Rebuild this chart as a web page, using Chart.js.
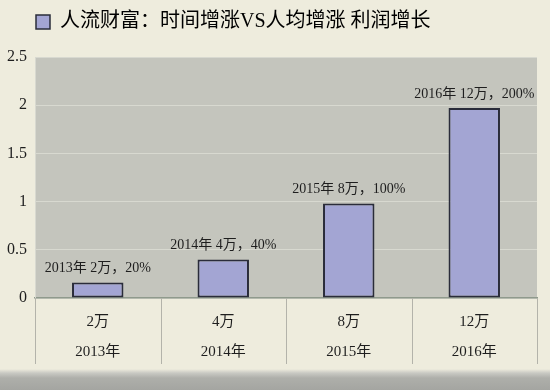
<!DOCTYPE html>
<html>
<head>
<meta charset="utf-8">
<script src="https://cdn.jsdelivr.net/npm/chart.js@4"></script>
<style>
  html, body { margin: 0; padding: 0; }
  body {
    width: 550px; height: 390px; overflow: hidden;
    background: linear-gradient(to bottom, #eeecdd 0px, #eeecdd 369px, #c9c9c3 373px, #aeafaa 378px, #a4a5a1 390px);
  }
  #wrap { position: relative; width: 550px; height: 390px; }
</style>
</head>
<body>
<div id="wrap"><canvas id="c" width="550" height="390"></canvas></div>
<script>
const title = '人流财富：时间增涨VS人均增涨 利润增长';
const categories = ['2013年', '2014年', '2015年', '2016年'];
const people = ['2万', '4万', '8万', '12万'];
const growth = ['20%', '40%', '100%', '200%'];
const values = [0.16, 0.4, 0.98, 1.97];
const yMax = 2.5;
const yStep = 0.5;

const FONT = "'Liberation Serif', 'Noto Sans CJK SC', serif";
const barLabels = categories.map((c, i) => c + ' ' + people[i] + '，' + growth[i]);
const xLabels = categories.map((c, i) => [people[i], c]);

const plotBg = {
  id: 'plotBg',
  beforeDraw(chart) {
    const { ctx, chartArea: a } = chart;
    ctx.save();
    ctx.fillStyle = '#c4c5bd';
    ctx.fillRect(a.left, a.top, a.right - a.left, a.bottom - a.top);
    ctx.restore();
  }
};

const separators = {
  id: 'separators',
  afterDraw(chart) {
    const { ctx, chartArea: a } = chart;
    const xs = chart.scales.x;
    ctx.save();
    ctx.strokeStyle = '#b3b3aa';
    ctx.lineWidth = 1;
    for (let i = 0; i <= categories.length; i++) {
      const x = Math.round(xs.getPixelForValue(i - 0.5)) + 0.5;
      ctx.beginPath();
      ctx.moveTo(x, a.bottom);
      ctx.lineTo(x, a.bottom + 66);
      ctx.stroke();
    }
    ctx.restore();
  }
};

const barText = {
  id: 'barText',
  afterDatasetsDraw(chart) {
    const { ctx } = chart;
    const meta = chart.getDatasetMeta(0);
    ctx.save();
    ctx.font = '14px ' + FONT;
    ctx.fillStyle = '#1e1e1e';
    ctx.textAlign = 'center';
    ctx.textBaseline = 'bottom';
    meta.data.forEach((bar, i) => {
      ctx.fillText(barLabels[i], bar.x, bar.y - 7);
    });
    ctx.restore();
  }
};

const legendTweak = {
  id: 'legendTweak',
  beforeInit(chart) {
    const lg = chart.legend;
    const origFit = lg.fit;
    lg.fit = function () {
      origFit.call(this);
      this.height += 15;
    };
    const origDraw = lg.draw;
    lg.draw = function () {
      this.ctx.save();
      this.ctx.translate(26, 0);
      origDraw.call(this);
      this.ctx.restore();
    };
  }
};

new Chart(document.getElementById('c'), {
  type: 'bar',
  data: {
    labels: xLabels,
    datasets: [{
      label: title,
      data: values,
      backgroundColor: '#a3a5d3',
      borderColor: '#2a2c3a',
      borderWidth: 2,
      borderSkipped: false,
      barPercentage: 0.41,
      categoryPercentage: 1.0
    }]
  },
  options: {
    responsive: false,
    animation: false,
    devicePixelRatio: 1,
    layout: { padding: { left: 0, right: 13, top: 2, bottom: 0 } },
    plugins: {
      legend: {
        display: true,
        position: 'top',
        align: 'start',
        labels: {
          boxWidth: 14,
          boxHeight: 14,
          padding: 10,
          color: '#1e1e1e',
          font: { size: 20, family: FONT },
          generateLabels(chart) {
            return [{
              text: title,
              fillStyle: '#a3a5d3',
              strokeStyle: '#2a2c3a',
              lineWidth: 1.5,
              datasetIndex: 0
            }];
          }
        }
      },
      tooltip: { enabled: false }
    },
    scales: {
      x: {
        grid: { display: false, drawTicks: false },
        border: { display: true, color: '#8f9a8c', width: 1.5 },
        ticks: {
          color: '#1e1e1e',
          padding: 9,
          maxRotation: 0,
          font: { size: 15, family: FONT, lineHeight: 2 }
        },
        afterFit(s) { s.height = 92; }
      },
      y: {
        min: 0,
        max: yMax,
        grid: { color: '#d8d9d0', lineWidth: 1, drawTicks: false },
        border: { display: true, color: '#d8d9d0' },
        ticks: {
          stepSize: yStep,
          color: '#1e1e1e',
          padding: 8,
          font: { size: 16, family: FONT },
          callback: (v) => String(v)
        },
        afterFit(s) { s.width = 35; }
      }
    }
  },
  plugins: [plotBg, separators, barText, legendTweak]
});
</script>
</body>
</html>
